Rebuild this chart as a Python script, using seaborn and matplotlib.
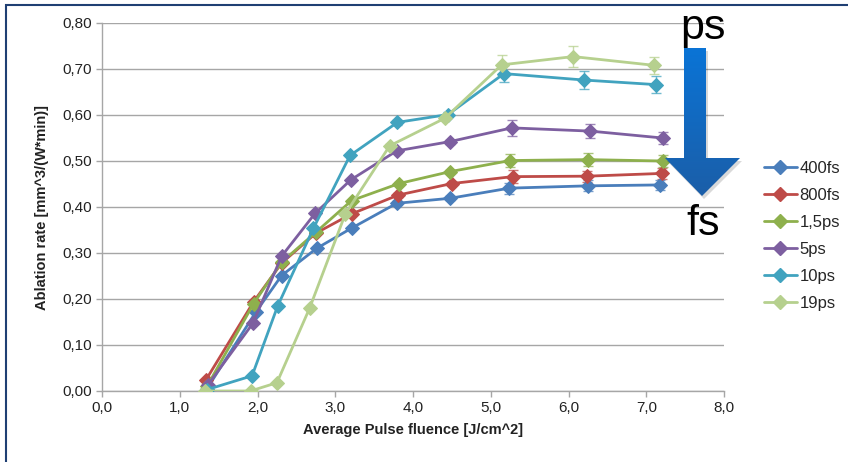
import numpy as np
import pandas as pd
import matplotlib
matplotlib.use("Agg")
import matplotlib.pyplot as plt
from matplotlib.patches import Polygon
from matplotlib.lines import Line2D
import seaborn as sns

# ---- data ----
series_names = ["400fs", "800fs", "1,5ps", "5ps", "10ps", "19ps"]
x_400fs = [1.35, 1.98, 2.31, 2.76, 3.21, 3.79, 4.48, 5.24, 6.25, 7.18]
y_400fs = [0.005, 0.172, 0.251, 0.310, 0.354, 0.408, 0.419, 0.441, 0.446, 0.448]
e_400fs = [0, 0, 0, 0, 0, 0.004, 0.004, 0.012, 0.012, 0.010]
x_800fs = [1.34, 1.95, 2.31, 2.75, 3.21, 3.81, 4.50, 5.28, 6.24, 7.20]
y_800fs = [0.025, 0.194, 0.278, 0.343, 0.385, 0.426, 0.451, 0.466, 0.467, 0.473]
e_800fs = [0, 0, 0, 0, 0, 0.004, 0.004, 0.014, 0.012, 0.012]
x_15ps = [1.35, 1.95, 2.31, 2.75, 3.21, 3.82, 4.48, 5.25, 6.25, 7.21]
y_15ps = [0.010, 0.190, 0.280, 0.345, 0.414, 0.451, 0.477, 0.501, 0.503, 0.500]
e_15ps = [0, 0, 0, 0, 0, 0.004, 0.004, 0.015, 0.014, 0.013]
x_5ps = [1.36, 1.94, 2.31, 2.74, 3.20, 3.79, 4.47, 5.27, 6.28, 7.21]
y_5ps = [0.013, 0.147, 0.293, 0.386, 0.459, 0.522, 0.542, 0.572, 0.565, 0.550]
e_5ps = [0, 0, 0, 0, 0, 0.004, 0.004, 0.018, 0.016, 0.014]
x_10ps = [1.35, 1.93, 2.26, 2.72, 3.19, 3.80, 4.45, 5.17, 6.20, 7.13]
y_10ps = [0.003, 0.033, 0.185, 0.354, 0.512, 0.584, 0.601, 0.690, 0.676, 0.666]
e_10ps = [0, 0, 0, 0, 0, 0.005, 0.005, 0.018, 0.020, 0.018]
x_19ps = [1.32, 1.91, 2.25, 2.67, 3.13, 3.70, 4.41, 5.14, 6.06, 7.10]
y_19ps = [0.000, 0.000, 0.018, 0.180, 0.385, 0.533, 0.593, 0.709, 0.727, 0.708]
e_19ps = [0, 0, 0, 0, 0, 0.004, 0.004, 0.022, 0.022, 0.019]

xs = [x_400fs, x_800fs, x_15ps, x_5ps, x_10ps, x_19ps]
ys = [y_400fs, y_800fs, y_15ps, y_5ps, y_10ps, y_19ps]
es = [e_400fs, e_800fs, e_15ps, e_5ps, e_10ps, e_19ps]
colors = ["#4A7EBB", "#BE4B48", "#8EB04D", "#7D5FA0", "#41A3BF", "#B6D08E"]

x_ticks = [0, 1, 2, 3, 4, 5, 6, 7, 8]
y_ticks = [0.0, 0.1, 0.2, 0.3, 0.4, 0.5, 0.6, 0.7, 0.8]

df = pd.concat([pd.DataFrame({"x": x, "y": y, "err": e, "series": n})
                for x, y, e, n in zip(xs, ys, es, series_names)], ignore_index=True)

sns.set_theme(style="white")
plt.rcParams["font.family"] = ["Liberation Sans", "DejaVu Sans"]

W, H = 848, 462
fig = plt.figure(figsize=(W / 100, H / 100), dpi=100)
ax = fig.add_axes([102 / W, 1 - 391 / H, (724 - 102) / W, (391 - 23) / H])

for n, c in zip(series_names, colors):
    d = df[df.series == n]
    ax.errorbar(d.x, d.y, yerr=np.where(d.err > 0, d.err, np.nan), fmt="none",
                ecolor=c, elinewidth=1, capsize=3.5, capthick=1, alpha=0.75, zorder=2)
    sns.lineplot(data=d, x="x", y="y", ax=ax, color=c, marker="D", markersize=7,
                 markeredgecolor=c, linewidth=2, legend=False, zorder=3, estimator=None)

ax.set_xlim(0, 8)
ax.set_ylim(0, 0.8)
ax.set_xticks(x_ticks)
ax.set_xticklabels([f"{v:.1f}".replace(".", ",") for v in x_ticks])
ax.set_yticks(y_ticks)
ax.set_yticklabels([f"{v:.2f}".replace(".", ",") for v in y_ticks])
ax.grid(axis="y", color="#A6A6A6", linewidth=1)
ax.grid(axis="x", visible=False)
for s in ["top", "right"]:
    ax.spines[s].set_visible(False)
for s in ["left", "bottom"]:
    ax.spines[s].set_color("#A6A6A6")
    ax.spines[s].set_linewidth(1)
ax.tick_params(axis="both", which="both", direction="out", length=4, width=1,
               color="#A6A6A6", labelsize=11, labelcolor="#222222", pad=3,
               left=True, bottom=True)
ax.set_xlabel("Average Pulse fluence [J/cm^2]", fontsize=10.5, fontweight="bold",
              color="#222222", labelpad=6)
ax.set_ylabel("Ablation rate [mm^3/(W*min)]", fontsize=10.5, fontweight="bold",
              color="#222222", labelpad=10)

handles = [Line2D([0], [0], color=c, lw=2, marker="D", markersize=7) for c in colors]
fig.legend(handles, series_names, loc="upper left", bbox_to_anchor=(757 / W, 1 - 154 / H),
           frameon=False, fontsize=12, handlelength=2.0, handletextpad=0.15,
           labelspacing=0.72, borderaxespad=0)

# overlay in pixel coords for arrow, annotations and frame
ov = fig.add_axes([0, 0, 1, 1], zorder=5)
ov.set_xlim(0, W)
ov.set_ylim(H, 0)
ov.axis("off")
ov.patch.set_alpha(0)

arrow_pts = [(684, 48), (706, 48), (706, 158), (740, 158), (702, 196),
             (665, 158), (684, 158)]
shadow = Polygon([(x + 2, y + 3) for x, y in arrow_pts], closed=True,
                 facecolor="#000000", alpha=0.15, edgecolor="none")
ov.add_patch(shadow)
poly = Polygon(arrow_pts, closed=True, facecolor="none", edgecolor="none")
ov.add_patch(poly)
grad = np.linspace(0, 1, 256).reshape(-1, 1)
cmap = matplotlib.colors.LinearSegmentedColormap.from_list("arr", ["#0A74D6", "#1B5EA8"])
im = ov.imshow(grad, cmap=cmap, extent=(665, 740, 196, 48), aspect="auto", zorder=6)
im.set_clip_path(poly)

ov.text(703, 28, "ps", fontsize=31, ha="center", va="center",
        family=["Liberation Sans Narrow", "Liberation Sans", "DejaVu Sans"], color="black")
ov.text(703, 224, "fs", fontsize=31, ha="center", va="center",
        family=["Liberation Sans Narrow", "Liberation Sans", "DejaVu Sans"], color="black")

ov.plot([5, W], [4.5, 4.5], color="#1F3F73", lw=1.5, solid_capstyle="butt")
ov.plot([5.5, 5.5], [4, H], color="#1F3F73", lw=1.5, solid_capstyle="butt")

fig.savefig("out.png", dpi=100)
